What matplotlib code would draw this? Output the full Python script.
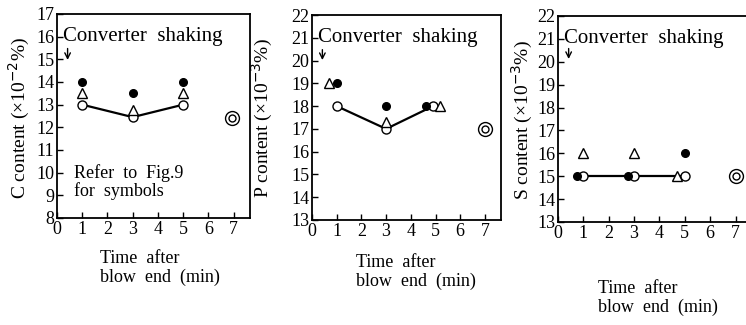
import numpy as np
import matplotlib.pyplot as plt

plt.rcParams['font.family'] = ['Liberation Serif', 'DejaVu Serif']

# C content
c_open_x = [1, 3, 5]
c_open_y = [13.0, 12.45, 13.0]
c_fill_x = [1, 3, 5]
c_fill_y = [14.0, 13.5, 14.0]
c_tri_x = [1, 3, 5]
c_tri_y = [13.5, 12.75, 13.5]
c_dbl = (6.95, 12.4)

# P content
p_open_x = [1, 3, 4.9]
p_open_y = [18.0, 17.0, 18.0]
p_fill_x = [1, 3, 4.6]
p_fill_y = [19.0, 18.0, 18.0]
p_tri_x = [0.7, 3, 5.2]
p_tri_y = [19.0, 17.3, 18.0]
p_dbl = (7, 17.0)

# S content
s_open_x = [1, 3, 5]
s_open_y = [15.0, 15.0, 15.0]
s_fill_x = [0.75, 2.75, 5]
s_fill_y = [15.0, 15.0, 16.0]
s_tri_x = [1, 3, 4.7]
s_tri_y = [16.0, 16.0, 15.0]
s_dbl = (7, 15.0)

W, H = 746, 325


def rect(l, r, t, b):
    return [l / W, 1 - b / H, (r - l) / W, (b - t) / H]


panels = [
    dict(rect=rect(57, 250, 14, 218), ylim=(8, 17),
         ylabel='C content (×10$^{-2}$%)', ylab=(19, 118),
         open=(c_open_x, c_open_y), fill=(c_fill_x, c_fill_y), tri=(c_tri_x, c_tri_y), dbl=c_dbl,
         txt=(0.25, 16.0), arrow=(0.42, 15.6, 14.85), xl=(100, 250)),
    dict(rect=rect(312, 501, 15, 220), ylim=(13, 22),
         ylabel='P content (×10$^{-3}$%)', ylab=(262, 118),
         open=(p_open_x, p_open_y), fill=(p_fill_x, p_fill_y), tri=(p_tri_x, p_tri_y), dbl=p_dbl,
         txt=(0.25, 21.0), arrow=(0.42, 20.6, 19.9), xl=(356, 254)),
    dict(rect=rect(558, 752, 16, 222), ylim=(13, 22),
         ylabel='S content (×10$^{-3}$%)', ylab=(522, 120),
         open=(s_open_x, s_open_y), fill=(s_fill_x, s_fill_y), tri=(s_tri_x, s_tri_y), dbl=s_dbl,
         txt=(0.25, 21.0), arrow=(0.42, 20.7, 20.0), xl=(598, 280)),
]

fig = plt.figure(figsize=(W / 100, H / 100), dpi=100)

for i, p in enumerate(panels):
    ax = fig.add_axes(p['rect'])
    ax.plot(p['open'][0], p['open'][1], color='black', lw=1.6, zorder=1)
    ax.plot(p['open'][0], p['open'][1], 'o', ms=6.5, mfc='white', mec='black', mew=1, zorder=3)
    ax.plot(p['fill'][0], p['fill'][1], 'o', ms=5.5, color='black', zorder=4)
    ax.plot(p['tri'][0], p['tri'][1], '^', ms=6.5, mfc='white', mec='black', mew=1, zorder=3)
    ax.plot(p['dbl'][0], p['dbl'][1], 'o', ms=10, mfc='white', mec='black', mew=1, zorder=3)
    ax.plot(p['dbl'][0], p['dbl'][1], 'o', ms=5, mfc='white', mec='black', mew=1, zorder=3)

    ax.set_xlim(0, 7.65)
    ax.set_ylim(*p['ylim'])
    ax.set_xticks(range(0, 8))
    ax.set_yticks(range(p['ylim'][0], p['ylim'][1] + 1))
    ax.tick_params(direction='in', length=4, width=1, labelsize=13, pad=2)
    for s in ax.spines.values():
        s.set_linewidth(1.3)

    fig.text(p['ylab'][0] / W, 1 - p['ylab'][1] / H, p['ylabel'], fontsize=14,
             rotation=90, ha='center', va='center')

    ax.text(p['txt'][0], p['txt'][1], 'Converter  shaking', fontsize=15, va='center', ha='left')
    ax.annotate('', xy=(p['arrow'][0], p['arrow'][2]), xytext=(p['arrow'][0], p['arrow'][1]),
                arrowprops=dict(arrowstyle='->', color='black', lw=1))

    fig.text(p['xl'][0] / W, 1 - p['xl'][1] / H, 'Time  after\nblow  end  (min)',
             fontsize=13, ha='left', va='top', linespacing=1.15)

    if i == 0:
        ax.text(0.67, 10.0, 'Refer  to  Fig.9', fontsize=13, va='center')
        ax.text(0.67, 9.2, 'for  symbols', fontsize=13, va='center')

fig.savefig('out.png', dpi=100)
